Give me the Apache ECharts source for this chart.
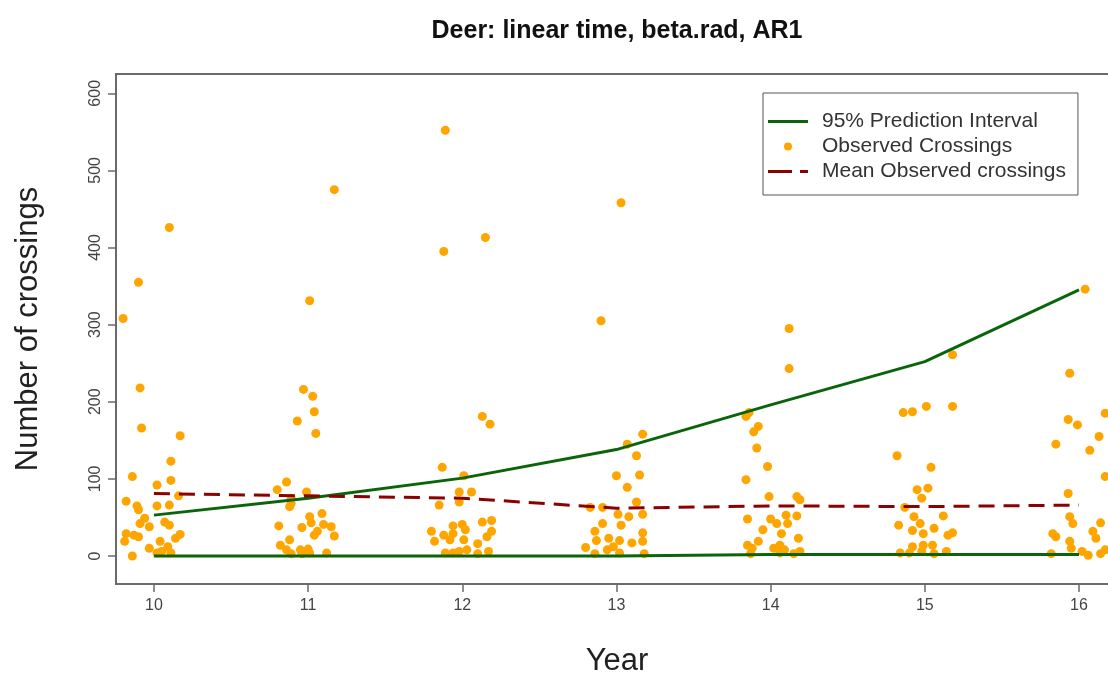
<!DOCTYPE html>
<html>
<head>
<meta charset="utf-8">
<script src="https://cdn.jsdelivr.net/npm/echarts@6/dist/echarts.min.js"></script>
<style>
html,body{margin:0;padding:0;background:#fff;}
#chart{width:1108px;height:677px;}
</style>
</head>
<body>
<div id="chart"></div>
<script>
// ---- data ----
const years = [10, 11, 12, 13, 14, 15, 16];
const piUpper = [53, 75, 101, 138, 196, 252, 345];
const piLower = [0, 0, 0, 0, 2, 2, 2];
const meanObserved = [81, 78, 75, 62, 65, 64, 66];
const yTicks = [0, 100, 200, 300, 400, 500, 600];
const xTicks = [10, 11, 12, 13, 14, 15, 16];

const obs10 = [[9.80,308],[9.90,355],[10.10,426],[9.91,218],[9.92,166],[10.17,156],[10.11,123],[9.86,103],[10.11,98],[10.02,92],[10.16,78],[9.82,71],[9.89,65],[10.02,65],[10.10,66],[9.90,60],[9.94,49],[9.91,42],[9.97,38],[10.07,44],[10.10,40],[9.82,29],[9.87,27],[9.90,25],[9.81,19],[10.17,28],[10.14,23],[9.97,10],[10.04,19],[10.05,6],[10.09,12],[10.11,4],[9.86,0],[10.02,4]];
const obs11 = [[11.17,475],[11.01,331],[10.97,216],[11.03,207],[11.04,187],[10.93,175],[11.05,159],[10.86,96],[10.80,86],[10.99,83],[10.89,75],[10.88,64],[11.01,51],[11.09,55],[11.02,43],[10.96,37],[11.10,41],[11.15,38],[10.81,39],[11.04,27],[11.17,26],[10.88,21],[10.82,14],[10.86,8],[10.95,8],[11.00,9],[10.89,3],[10.96,3],[11.01,4],[11.12,4],[11.06,32],[10.89,68]];
const obs12 = [[11.89,552],[11.88,395],[12.15,413],[12.13,181],[12.18,171],[11.87,115],[12.01,104],[12.06,83],[11.98,83],[11.98,70],[11.85,66],[11.80,32],[11.82,19],[11.88,27],[11.94,39],[12.00,41],[11.94,29],[12.02,34],[12.13,44],[12.19,46],[12.19,32],[12.16,25],[12.10,16],[12.01,21],[11.92,21],[11.89,4],[11.94,4],[11.98,6],[12.03,8],[12.10,3],[12.17,6]];
const obs13 = [[13.03,458],[12.90,305],[13.17,158],[13.07,145],[13.13,130],[13.00,104],[13.15,105],[13.07,89],[13.13,70],[12.83,63],[12.91,63],[13.01,54],[13.08,51],[13.17,54],[13.03,40],[12.91,42],[12.86,32],[12.87,20],[12.95,23],[13.02,20],[13.10,17],[13.17,30],[13.17,19],[12.80,11],[12.86,3],[12.94,8],[13.02,4],[13.18,3],[12.98,12]];
const obs14 = [[14.12,295],[14.12,243],[13.86,186],[13.84,181],[13.92,168],[13.89,161],[13.91,140],[13.98,116],[13.84,99],[13.99,77],[14.17,77],[14.19,73],[13.85,48],[14.00,48],[14.10,53],[14.17,52],[14.04,42],[14.11,42],[13.95,34],[14.07,29],[14.18,23],[13.92,19],[13.88,10],[14.02,10],[14.06,14],[13.87,3],[14.06,4],[14.15,3],[14.19,6],[14.09,8],[13.85,14]];
const obs15 = [[15.18,261],[14.86,186],[14.92,187],[15.01,194],[15.18,194],[14.82,130],[15.04,115],[14.95,86],[15.02,88],[14.98,75],[14.87,63],[14.93,51],[15.12,52],[14.83,40],[14.97,42],[15.06,36],[14.92,33],[14.99,29],[15.18,30],[15.15,27],[14.92,12],[14.99,14],[15.05,14],[14.84,4],[14.90,4],[14.98,6],[15.06,3],[15.14,6]];
const obs16 = [[16.04,346],[15.94,237],[15.93,177],[15.99,170],[16.17,185],[15.85,145],[16.13,155],[16.07,137],[16.17,103],[15.93,81],[15.94,51],[15.96,42],[16.14,43],[15.83,29],[15.85,25],[16.09,32],[16.11,23],[15.94,19],[15.95,10],[15.82,3],[16.02,6],[16.06,1],[16.14,3],[16.17,8]];

// ---- chart ----
const FONT = '"Liberation Sans", Arial, sans-serif';
const observed = [].concat(obs10, obs11, obs12, obs13, obs14, obs15, obs16);
const pair = (vals) => years.map((y, i) => [y, vals[i]]);

// legend icons (40 x 10 boxes, with invisible corner anchors)
const ICON_SOLID = 'path://M0,0h0.01v0.01h-0.01z M0,3.5h40v3h-40z M39.99,9.99h0.01v0.01h-0.01z';
const ICON_DASH = 'path://M0,0h0.01v0.01h-0.01z M0,3.5h24v3h-24z M32,3.5h8v3h-8z M39.99,9.99h0.01v0.01h-0.01z';
const ICON_DOT = 'path://M0,0h0.01v0.01h-0.01z M16,5a4,4 0 1,0 8,0a4,4 0 1,0 -8,0z M39.99,9.99h0.01v0.01h-0.01z';

const chart = echarts.init(document.getElementById('chart'), null, {renderer: 'canvas'});
chart.setOption({
  animation: false,
  backgroundColor: '#ffffff',
  textStyle: {fontFamily: FONT},
  title: {
    text: 'Deer: linear time, beta.rad, AR1',
    left: 612, top: 14, textAlign: 'center',
    textStyle: {fontFamily: FONT, fontWeight: 'bold', fontSize: 25, color: '#111'}
  },
  grid: {
    left: 116, right: -10, top: 74, bottom: 93,
    outerBoundsMode: 'none', containLabel: false,
    show: true, borderColor: '#6a6a6a', borderWidth: 2, backgroundColor: 'transparent'
  },
  xAxis: {
    type: 'value', min: 9.754, max: 16.253,
    name: 'Year', nameLocation: 'middle', nameGap: 62,
    nameTextStyle: {fontFamily: FONT, fontSize: 31, color: '#222'},
    axisLine: {show: false, onZero: false},
    splitLine: {show: false},
    axisTick: {show: true, length: 8, inside: false, customValues: xTicks, lineStyle: {color: '#6a6a6a', width: 1.5}},
    axisLabel: {customValues: xTicks, margin: 14, fontSize: 16, color: '#444', fontFamily: FONT}
  },
  yAxis: {
    type: 'value', min: -36.3, max: 625,
    name: 'Number of crossings', nameLocation: 'middle', nameGap: 72, nameRotate: 90,
    nameTextStyle: {fontFamily: FONT, fontSize: 31, color: '#222'},
    axisLine: {show: false, onZero: false},
    splitLine: {show: false},
    axisTick: {show: true, length: 8, inside: false, customValues: yTicks, lineStyle: {color: '#6a6a6a', width: 1.5}},
    axisLabel: {customValues: yTicks, rotate: 90, margin: 12, fontSize: 16, color: '#444', fontFamily: FONT}
  },
  legend: {
    orient: 'vertical', left: 763, top: 93,
    padding: [18, 12, 13, 5],
    borderColor: '#555', borderWidth: 1, backgroundColor: '#fff',
    itemWidth: 40, itemHeight: 10, itemGap: 4,
    textStyle: {fontFamily: FONT, fontSize: 21, lineHeight: 21, color: '#333', padding: [0, 0, 0, 9]},
    data: [
      {name: '95% Prediction Interval', icon: ICON_SOLID},
      {name: 'Observed Crossings', icon: ICON_DOT},
      {name: 'Mean Observed crossings', icon: ICON_DASH}
    ]
  },
  series: [
    {
      name: 'Observed Crossings', type: 'scatter', data: observed,
      symbol: 'circle', symbolSize: 9, z: 2,
      itemStyle: {color: '#FFA500', opacity: 1}
    },
    {
      name: '95% Prediction Interval', type: 'line', data: pair(piUpper),
      showSymbol: false, symbol: 'none', z: 3,
      lineStyle: {color: '#0a650a', width: 3}, itemStyle: {color: '#0a650a'}
    },
    {
      name: '95% Prediction Interval', type: 'line', data: pair(piLower),
      showSymbol: false, symbol: 'none', z: 3,
      lineStyle: {color: '#0a650a', width: 3}, itemStyle: {color: '#0a650a'}
    },
    {
      name: 'Mean Observed crossings', type: 'line', data: pair(meanObserved),
      showSymbol: false, symbol: 'none', z: 4,
      lineStyle: {color: '#8B0000', width: 3, type: [16, 9]}, itemStyle: {color: '#8B0000'}
    }
  ]
});
</script>
</body>
</html>
